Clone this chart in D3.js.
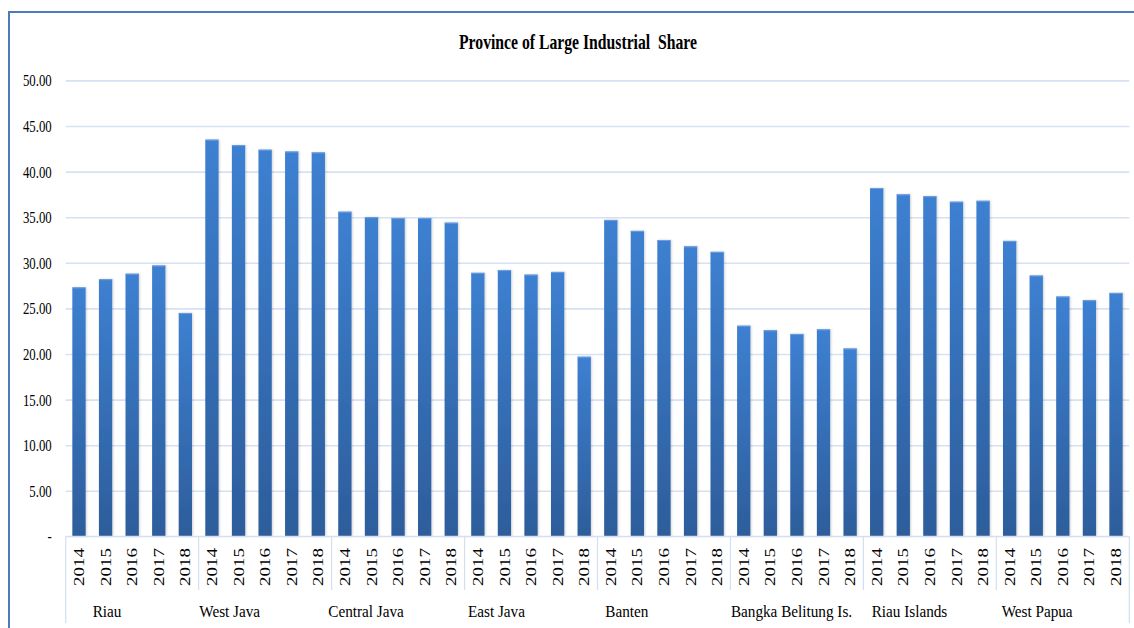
<!DOCTYPE html>
<html>
<head>
<meta charset="utf-8">
<script src="https://cdn.jsdelivr.net/npm/d3@7"></script>
<style>
  html, body { margin: 0; padding: 0; background: #fff; }
  svg { display: block; }
  text { font-family: "Liberation Serif", "Times New Roman", serif; fill: #000; }
</style>
</head>
<body>
<svg id="chart" width="1134" height="628"></svg>
<script>
// Provinces, years and the large-industry share (%) per province and year
const provinces = ["Riau", "West Java", "Central Java", "East Java", "Banten",
                   "Bangka Belitung Is.", "Riau Islands", "West Papua"];
const years = ["2014", "2015", "2016", "2017", "2018"];

const riau          = [27.3, 28.2, 28.8, 29.7, 24.5];
const westJava      = [43.5, 42.9, 42.4, 42.2, 42.1];
const centralJava   = [35.6, 35.0, 34.9, 34.9, 34.4];
const eastJava      = [28.9, 29.2, 28.7, 29.0, 19.7];
const banten        = [34.7, 33.5, 32.5, 31.8, 31.2];
const bangkaBelitung= [23.1, 22.6, 22.2, 22.7, 20.6];
const riauIslands   = [38.2, 37.5, 37.3, 36.7, 36.8];
const westPapua     = [32.4, 28.6, 26.3, 25.9, 26.7];

const seriesByProvince = [riau, westJava, centralJava, eastJava, banten,
                          bangkaBelitung, riauIslands, westPapua];

const yTicks = [0, 5, 10, 15, 20, 25, 30, 35, 40, 45, 50];

// Flatten into one row per bar
const rows = [];
provinces.forEach((p, i) => years.forEach((yr, j) => {
  rows.push({ key: p + "|" + yr, province: p, year: yr, value: seriesByProvince[i][j] });
}));

const svg = d3.select("#chart");
const plotLeft = 65.7, plotRight = 1129.3, plotTop = 80.4, plotBottom = 536.4;

// Outer chart frame
svg.append("rect")
  .attr("x", 9).attr("y", 12).attr("width", 1160).attr("height", 660)
  .attr("fill", "none").attr("stroke", "#4a7ebb").attr("stroke-width", 2);

const x = d3.scaleBand()
  .domain(rows.map(d => d.key))
  .range([plotLeft, plotRight])
  .paddingInner(0.5)
  .paddingOuter(0.25);

const y = d3.scaleLinear().domain([0, 50]).range([plotBottom, plotTop]);

// Gradient for the bars (lighter on top, darker at the base)
const defs = svg.append("defs");
const grad = defs.append("linearGradient")
  .attr("id", "barGrad").attr("x1", 0).attr("y1", 0).attr("x2", 0).attr("y2", 1);
grad.append("stop").attr("offset", "0%").attr("stop-color", "#3d80d1");
grad.append("stop").attr("offset", "100%").attr("stop-color", "#2d5d9b");

const shadow = defs.append("filter").attr("id", "barShadow")
  .attr("x", "-30%").attr("y", "-5%").attr("width", "160%").attr("height", "110%");
shadow.append("feDropShadow").attr("dx", 1).attr("dy", 0).attr("stdDeviation", 1)
  .attr("flood-color", "#000").attr("flood-opacity", 0.18);

// Horizontal gridlines and left-hand value axis
const yAxis = d3.axisLeft(y)
  .tickValues(yTicks)
  .tickSize(-(plotRight - plotLeft))
  .tickPadding(14)
  .tickFormat(d => d === 0 ? "-" : d3.format(".2f")(d));

const gy = svg.append("g")
  .attr("transform", `translate(${plotLeft},0)`)
  .call(yAxis);
gy.select(".domain").remove();
gy.selectAll(".tick line")
  .attr("stroke", "#d6e1f1").attr("stroke-width", 1.6)
  .filter(d => d === 0).remove();
gy.selectAll(".tick text")
  .attr("font-size", 16)
  .attr("font-family", "Liberation Serif, serif")
  .attr("fill", "#000")
  .attr("dy", "0.34em")
  .each(function () {
    const w = this.getComputedTextLength();
    d3.select(this).attr("textLength", w * 0.8).attr("lengthAdjust", "spacingAndGlyphs");
  });

// Bars
svg.append("g")
  .selectAll("rect")
  .data(rows)
  .join("rect")
  .attr("x", d => x(d.key))
  .attr("y", d => y(d.value))
  .attr("width", x.bandwidth())
  .attr("height", d => y(0) - y(d.value))
  .attr("fill", "url(#barGrad)")
  .attr("filter", "url(#barShadow)");

// Light top edge on each bar
svg.append("g")
  .selectAll("line")
  .data(rows)
  .join("line")
  .attr("x1", d => x(d.key)).attr("x2", d => x(d.key) + x.bandwidth())
  .attr("y1", d => y(d.value) + 0.5).attr("y2", d => y(d.value) + 0.5)
  .attr("stroke", "#6d9ee0").attr("stroke-width", 1);

// Category axis: baseline, group separators
const axisColor = "#d3dff0";
const axisG = svg.append("g");
axisG.append("line")
  .attr("x1", plotLeft).attr("x2", plotRight).attr("y1", y(0)).attr("y2", y(0))
  .attr("stroke", axisColor).attr("stroke-width", 1.5);

const step = x.step();
const groupStart = p => x(p + "|" + years[0]) - x.paddingOuter() * step;
provinces.forEach((p, i) => {
  const gx = i === 0 ? plotLeft : groupStart(p);
  axisG.append("line")
    .attr("x1", gx).attr("x2", gx)
    .attr("y1", y(0)).attr("y2", i === 0 ? 623 : 590)
    .attr("stroke", axisColor).attr("stroke-width", 1.2);
});
axisG.append("line")
  .attr("x1", plotRight).attr("x2", plotRight).attr("y1", y(0)).attr("y2", 623)
  .attr("stroke", axisColor).attr("stroke-width", 1.2);

// Year labels, rotated
svg.append("g")
  .selectAll("text")
  .data(rows)
  .join("text")
  .attr("transform", d => `translate(${x(d.key) + x.bandwidth() / 2},548) rotate(-90) scale(1,0.74)`)
  .attr("text-anchor", "end")
  .attr("dy", "0.36em")
  .attr("font-size", 19)
  .text(d => d.year);

// Province labels under each group
const labelShift = [27, 0.6, -3.3, 3.4, 7.8, 0.5, 8.3, 5.3];
svg.append("g")
  .selectAll("text")
  .data(provinces)
  .join("text")
  .attr("x", (p, i) => (i === 0 ? plotLeft : groupStart(p)) + labelShift[i])
  .attr("y", 617)
  .attr("font-size", 16)
  .text(p => p)
  .each(function () {
    const w = this.getComputedTextLength();
    d3.select(this).attr("textLength", w * 0.95).attr("lengthAdjust", "spacingAndGlyphs");
  });

// Title
svg.append("text")
  .attr("x", 578).attr("y", 49)
  .attr("text-anchor", "middle")
  .attr("font-size", 21)
  .attr("font-weight", "bold")
  .style("white-space", "pre")
  .text("Province of Large Industrial  Share")
  .attr("textLength", 238)
  .attr("lengthAdjust", "spacingAndGlyphs");
</script>
</body>
</html>
